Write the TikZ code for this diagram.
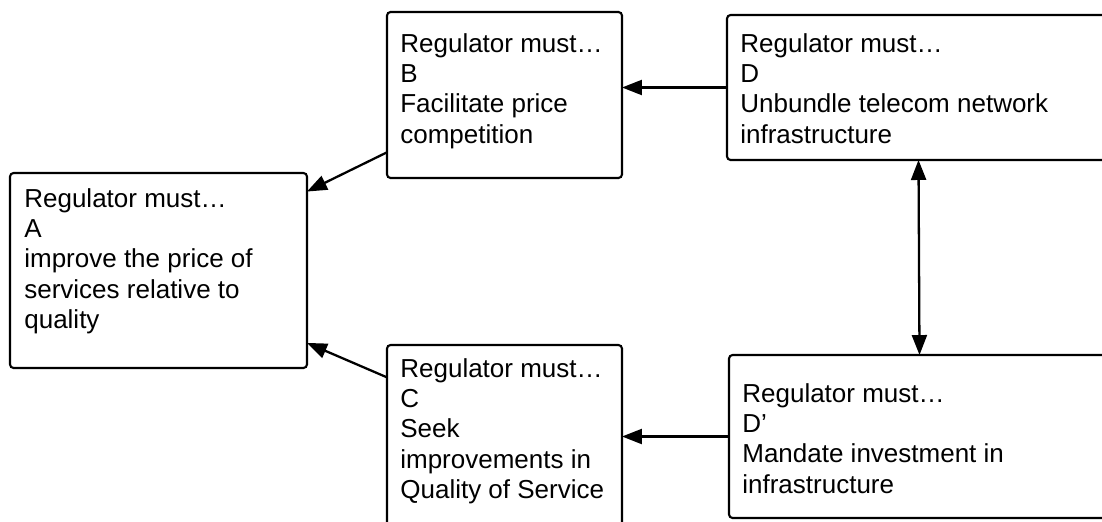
\documentclass[tikz,border=0pt]{standalone}
\usepackage{fontspec}
\setmainfont{Liberation Sans}
\usetikzlibrary{arrows.meta}
\tikzset{
  regbox/.style={draw, line width=1.2pt, rounded corners=2pt, inner sep=0pt, outer sep=0pt},
  regtext/.style={anchor=north west, align=left, inner sep=0pt, font=\fontsize{14.8}{17.3}\selectfont},
  regtip/.tip={Triangle[length=0.4cm,width=0.3cm]},
  arr/.style={line width=1.3pt, -regtip}
}
\begin{document}
\begin{tikzpicture}[x=0.02cm,y=-0.02cm]
        \useasboundingbox (0,0) rectangle (1102,521);
        \clip (0,0) rectangle (1102,521);
        \node[regbox, minimum width=5.94cm, minimum height=3.9cm] (A) at (158.5,270.5) {};
        \node[regbox, minimum width=4.7cm, minimum height=3.32cm] (B) at (504.5,95) {};
        \node[regbox, minimum width=4.7cm, minimum height=3.9cm] (C) at (504.5,442.5) {};
        \node[regbox, minimum width=7.66cm, minimum height=2.9cm] (D) at (918.5,87.5) {};
        \node[regbox, minimum width=7.62cm, minimum height=3.26cm] (Dp) at (919.5,436.5) {};
        \node[regtext] (Atext) at (24,188) {Regulator must…\\A\\improve the price of\\services relative to\\quality};
        \node[regtext] (Btext) at (400,33) {Regulator must…\\B\\Facilitate price\\competition};
        \node[regtext] (Ctext) at (400,358) {Regulator must…\\C\\Seek\\improvements in\\Quality of Service};
        \node[regtext] (Dtext) at (740,33) {Regulator must…\\D\\Unbundle telecom network\\infrastructure};
        \node[regtext] (Dptext) at (742,383) {Regulator must…\\D’\\Mandate investment in\\infrastructure};
        \draw[arr] (D.west) -- (D.west -| B.east);
        \draw[arr] (Dp.west) -- (Dp.west -| C.east);
        \draw[arr] (B.206) -- (A.28);
        \draw[arr] (C.151) -- (A.334);
        \draw[arr, regtip-regtip] (D.south) -- (Dp.north);
\end{tikzpicture}
\end{document}
